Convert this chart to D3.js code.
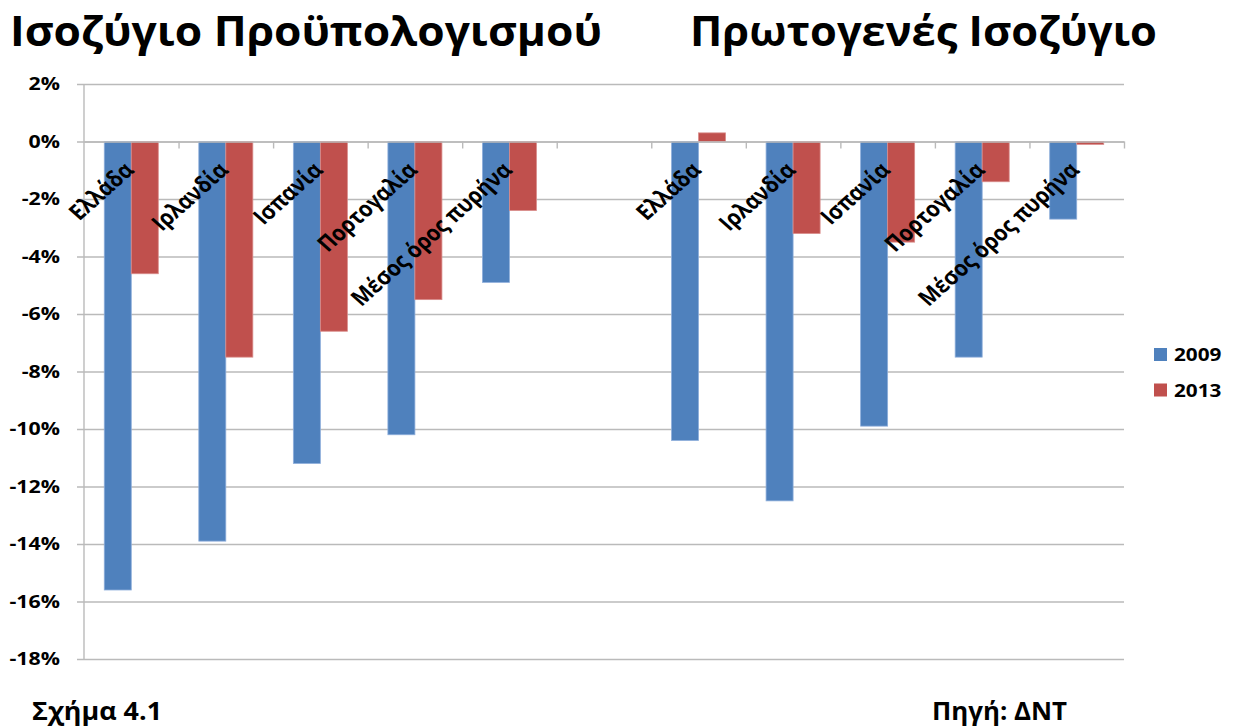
<!DOCTYPE html>
<html lang="el">
<head>
<meta charset="utf-8">
<title>Ισοζύγιο Προϋπολογισμού – Πρωτογενές Ισοζύγιο</title>
<script src="https://cdn.jsdelivr.net/npm/d3@7/dist/d3.min.js"></script>
<style>
  html, body { margin: 0; padding: 0; background: #ffffff; }
  svg { display: block; font-family: "Open Sans", "Noto Sans", sans-serif; font-weight: 700; }
</style>
</head>
<body>
<svg id="chart" width="1233" height="728"></svg>
<script>
// Countries shown in both panels (the last one is the core average)
const countries = ["Ελλάδα", "Ιρλανδία", "Ισπανία", "Πορτογαλία", "Μέσος όρος πυρήνα"];
const years = ["2009", "2013"];

// Budget balance, % of GDP
const budget2009 = [-15.6, -13.9, -11.2, -10.2, -4.9];
const budget2013 = [-4.6, -7.5, -6.6, -5.5, -2.4];

// Primary balance, % of GDP
const primary2009 = [-10.4, -12.5, -9.9, -7.5, -2.7];
const primary2013 = [0.3, -3.2, -3.5, -1.4, -0.1];

const yTicks = [2, 0, -2, -4, -6, -8, -10, -12, -14, -16, -18];
const titles = ["Ισοζύγιο Προϋπολογισμού", "Πρωτογενές Ισοζύγιο"];
const figureLabel = "Σχήμα 4.1";
const sourceLabel = "Πηγή: ΔΝΤ";

const colors = { "2009": "#4F81BD", "2013": "#C0504D" };
const edges = { "2009": "#8eaedb", "2013": "#d98c8a" };
const gridColor = "#bababa";

// One row per category slot: five budget slots, an empty spacer, five primary slots
const rows = [];
countries.forEach((c, i) => rows.push({ key: "b" + i, name: c, values: { "2009": budget2009[i], "2013": budget2013[i] } }));
rows.push({ key: "gap", name: "", values: null });
countries.forEach((c, i) => rows.push({ key: "p" + i, name: c, values: { "2009": primary2009[i], "2013": primary2013[i] } }));

const svg = d3.select("#chart");
const plot = { left: 84, right: 1124, top: 84, bottom: 659 };

const x = d3.scaleBand()
  .domain(rows.map(r => r.key))
  .range([plot.left, plot.right])
  .paddingInner(0)
  .paddingOuter(0);

const xInner = d3.scaleBand()
  .domain(years)
  .range([0, x.bandwidth()])
  .paddingInner(0)
  .paddingOuter(0.75);

const y = d3.scaleLinear().domain([-18, 2]).range([plot.bottom, plot.top]);

// Stretch helper for a wider or narrower letterform
function stretch(sel, k) {
  sel.each(function () {
    const len = this.getComputedTextLength();
    d3.select(this).attr("textLength", len * k).attr("lengthAdjust", "spacingAndGlyphs");
  });
}

// Horizontal gridlines with value labels
const yAxis = svg.append("g")
  .attr("transform", `translate(${plot.left - 7},0)`)
  .call(d3.axisLeft(y)
    .tickValues(yTicks)
    .tickSizeInner(-(plot.right - plot.left + 7))
    .tickSizeOuter(0)
    .tickPadding(17)
    .tickFormat(d => d + "%"));
yAxis.select(".domain").remove();
yAxis.selectAll(".tick line").attr("stroke", gridColor).attr("stroke-width", 1.4);
yAxis.selectAll(".tick text")
  .attr("fill", "#000")
  .style("font-size", "17.5px")
  .style("font-weight", 700)
  .style("font-family", "'Open Sans', sans-serif")
  .call(stretch, 1.22);

// Vertical value axis line
svg.append("line")
  .attr("x1", plot.left).attr("x2", plot.left)
  .attr("y1", plot.top).attr("y2", plot.bottom)
  .attr("stroke", gridColor).attr("stroke-width", 1.4);

// Bars
const groups = svg.append("g").selectAll("g")
  .data(rows.filter(r => r.values))
  .join("g")
  .attr("transform", d => `translate(${x(d.key)},0)`);

groups.selectAll("rect")
  .data(d => years.map(yr => ({ year: yr, value: d.values[yr] })))
  .join("rect")
  .attr("x", d => xInner(d.year))
  .attr("width", xInner.bandwidth())
  .attr("y", d => y(Math.max(0, d.value)))
  .attr("height", d => Math.abs(y(d.value) - y(0)))
  .attr("fill", d => colors[d.year])
  .attr("stroke", d => edges[d.year])
  .attr("stroke-width", 0.8);

// Category axis along the zero line, with tick marks between slots
const slotIndex = d3.scaleLinear().domain([0, rows.length]).range([plot.left, plot.right]);
const xAxis = svg.append("g")
  .attr("transform", `translate(0,${y(0)})`)
  .call(d3.axisBottom(slotIndex)
    .tickValues(d3.range(1, rows.length + 1))
    .tickSizeInner(7)
    .tickSizeOuter(0)
    .tickFormat(""));
xAxis.select(".domain").attr("stroke", gridColor).attr("stroke-width", 1.4);
xAxis.selectAll(".tick line").attr("stroke", gridColor).attr("stroke-width", 1.4);

// Rotated category names (slightly widened, so the slant is a little flatter than 45°)
svg.append("g").selectAll("text")
  .data(rows.filter(r => r.name))
  .join("text")
  .attr("transform", d => `translate(${x(d.key) + x.bandwidth() / 2 + 4},${y(0) + 30}) scale(1.12,1) rotate(-45)`)
  .attr("text-anchor", "end")
  .attr("fill", "#000")
  .style("font-size", "22px")
  .text(d => d.name)
  .call(stretch, 0.87);

// Panel titles
const titleX = [10, 690];
const titleW = [592, 467];
svg.append("g").selectAll("text")
  .data(titles)
  .join("text")
  .attr("x", (d, i) => titleX[i])
  .attr("y", 46)
  .attr("fill", "#000")
  .style("font-size", "41px")
  .attr("textLength", (d, i) => titleW[i])
  .attr("lengthAdjust", "spacingAndGlyphs")
  .text(d => d);

// Legend
const legend = svg.append("g").selectAll("g")
  .data(years)
  .join("g")
  .attr("transform", (d, i) => `translate(1154,${348 + i * 35.5})`);
legend.append("rect")
  .attr("width", 13).attr("height", 13)
  .attr("fill", d => colors[d]);
legend.append("text")
  .attr("x", 20).attr("y", 13)
  .attr("fill", "#000")
  .style("font-size", "18.5px")
  .text(d => d)
  .call(stretch, 1.12);

// Footer notes
svg.append("text")
  .attr("x", 32).attr("y", 720)
  .attr("fill", "#000")
  .style("font-size", "25px")
  .attr("textLength", 130).attr("lengthAdjust", "spacingAndGlyphs")
  .text(figureLabel);
svg.append("text")
  .attr("x", 932).attr("y", 720)
  .attr("fill", "#000")
  .style("font-size", "25px")
  .attr("textLength", 135).attr("lengthAdjust", "spacingAndGlyphs")
  .text(sourceLabel);
</script>
</body>
</html>
